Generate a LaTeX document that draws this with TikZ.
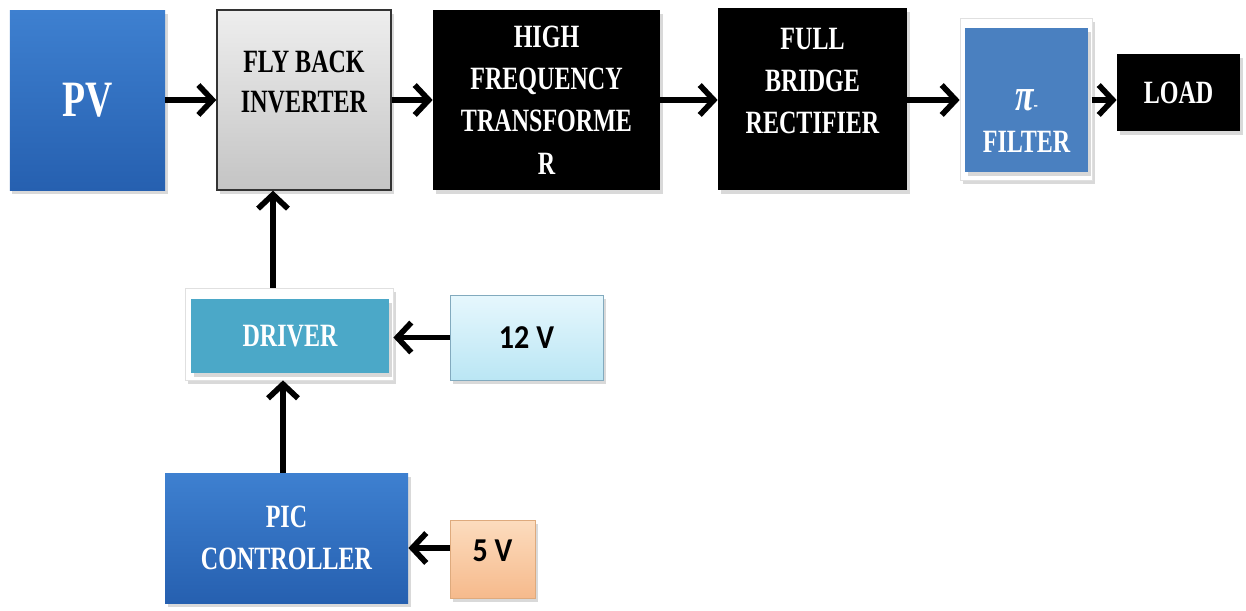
\documentclass[tikz,border=0pt]{standalone}
\usepackage{fontspec}
\setmainfont{Liberation Serif}[FakeStretch=0.74]
\newfontfamily\voltfont{Carlito}[FakeStretch=0.9]
\usetikzlibrary{arrows.meta,shadows}

\definecolor{pvtop}{RGB}{62,128,208}
\definecolor{pvbot}{RGB}{38,96,176}
\definecolor{flytop}{RGB}{238,238,238}
\definecolor{flybot}{RGB}{196,196,196}
\definecolor{filterblue}{RGB}{74,128,192}
\definecolor{driverteal}{RGB}{75,168,200}
\definecolor{cyantop}{RGB}{230,247,253}
\definecolor{cyanbot}{RGB}{186,230,244}
\definecolor{cyanedge}{RGB}{130,170,190}
\definecolor{peachtop}{RGB}{252,220,190}
\definecolor{peachbot}{RGB}{246,186,140}
\definecolor{peachedge}{RGB}{222,170,125}

\begin{document}
\begin{tikzpicture}
  \tikzset{
    boxshadow/.style={drop shadow={opacity=0.3,shadow xshift=0.5mm,shadow yshift=-0.7mm}},
    blockbox/.style={inner sep=0pt,align=center,boxshadow,
      font=\bfseries\fontsize{18.5}{24}\selectfont},
    bluebox/.style={blockbox,top color=pvtop,bottom color=pvbot,text=white},
    graybox/.style={blockbox,draw=black!80,line width=0.8pt,top color=flytop,bottom color=flybot},
    blackbox/.style={blockbox,fill=black,text=white},
    panel/.style={blockbox,fill=white,draw=black!12},
    voltbox/.style={blockbox,font=\voltfont\bfseries\fontsize{19}{20}\selectfont},
    arr/.style={line width=3.2pt,-{Straight Barb[length=8pt,width=17pt]}}
  }
  \useasboundingbox (0,0) rectangle (24.92,-12.2);

  % top row
  \node [bluebox,minimum width=3.1cm,minimum height=3.6cm,
         font=\bfseries\fontsize{29}{30}\selectfont] (pv) at (1.75,-2.0) {PV};
  \node [graybox,minimum width=3.48cm,minimum height=3.6cm,
         label={[align=center,anchor=north,yshift=-0.7cm,
                 font=\bfseries\fontsize{18.5}{23}\selectfont]north:{FLY BACK\\INVERTER}}] (fly) at (6.08,-2.0) {};
  \node [blackbox,minimum width=4.54cm,minimum height=3.6cm] (hf) at (10.93,-2.0)
        {HIGH\\FREQUENCY\\TRANSFORME\\R};
  \node [blackbox,minimum width=3.78cm,minimum height=3.64cm,
         label={[align=center,anchor=north,yshift=-0.28cm,text=white,
                 font=\bfseries\fontsize{18.5}{24}\selectfont]north:{FULL\\BRIDGE\\RECTIFIER}}] (fbr) at (16.25,-1.98) {};
  \node [panel,minimum width=2.64cm,minimum height=3.24cm] (filterpanel) at (20.52,-1.98) {};
  \node [blockbox,fill=filterblue,drop shadow={opacity=0},minimum width=2.46cm,minimum height=2.88cm,
         label={[align=center,yshift=-0.42cm,text=white,
                 font=\bfseries\fontsize{18.5}{24}\selectfont]center:{{\itshape\fontsize{26}{26}\selectfont π}{\fontsize{10}{10}\selectfont -}\\FILTER}}] (filter) at (20.53,-2.0) {};
  \node [blackbox,minimum width=2.46cm,minimum height=1.54cm] (load) at (23.57,-1.85) {LOAD};

  % control part
  \node [panel,minimum width=4.16cm,minimum height=1.84cm] (drvpanel) at (5.78,-6.68) {};
  \node [blockbox,fill=driverteal,text=white,drop shadow={opacity=0},
         minimum width=3.96cm,minimum height=1.48cm] (drv) at (5.8,-6.72) {DRIVER};
  \node [voltbox,draw=cyanedge,top color=cyantop,bottom color=cyanbot,
         minimum width=3.06cm,minimum height=1.7cm] (v12) at (10.53,-6.75) {12 V};
  \node [bluebox,minimum width=4.86cm,minimum height=2.6cm] (pic) at (5.73,-10.76) {PIC\\CONTROLLER};
  \node [voltbox,draw=peachedge,top color=peachtop,bottom color=peachbot,
         minimum width=1.7cm,minimum height=1.56cm,text depth=0.35cm] (v5) at (9.85,-11.18) {5 V};

  \draw [arr] (pv.east) -- (pv.east -| fly.west);
  \draw [arr] (fly.east) -- (fly.east -| hf.west);
  \draw [arr] (hf.east) -- (hf.east -| fbr.west);
  \draw [arr] (fbr.east |- hf.east) -- (hf.east -| filterpanel.west);
  \draw [arr] (filterpanel.west |- hf.east) ++(2.64,0) coordinate (fout) -- (fout -| load.west);
  \draw [arr] ([xshift=-3.2mm]drvpanel.north) -- ([xshift=-3.2mm]drvpanel.north |- fly.south);
  \draw [arr] (v12.west) -- (v12.west -| drvpanel.east);
  \draw [arr] ([xshift=-0.7mm]pic.north) -- ([xshift=-0.7mm]pic.north |- drvpanel.south);
  \draw [arr] ([yshift=2.2mm]v5.west) -- ([yshift=2.2mm]v5.west -| pic.east);
\end{tikzpicture}
\end{document}
